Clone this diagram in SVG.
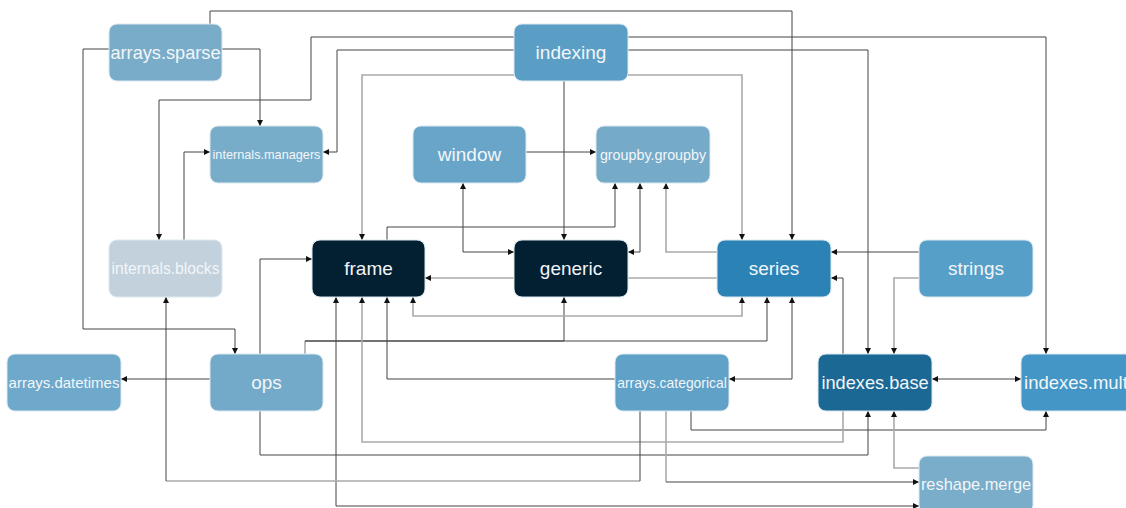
<svg xmlns="http://www.w3.org/2000/svg" width="1126" height="508" viewBox="0 0 1126 508">
<style>
.n rect{stroke:#dbe8f0;stroke-width:1}
.n text{font-family:"Liberation Sans",Arial,sans-serif;fill:#f2f6f9;text-anchor:middle}
.e path{fill:none;stroke:#444;stroke-width:1;marker-end:url(#a)}
.e path.l{stroke:#aaa;stroke-width:1.6}
.e path.b{marker-start:url(#s)}
.e path.na{marker-end:none}
</style>
<defs>
<marker id="a" markerUnits="userSpaceOnUse" markerWidth="7" markerHeight="7" refX="6" refY="3" orient="auto"><path d="M0,0 L6,3 L0,6 z" fill="#111"/></marker>
<marker id="s" markerUnits="userSpaceOnUse" markerWidth="7" markerHeight="7" refX="6" refY="3" orient="auto-start-reverse"><path d="M0,0 L6,3 L0,6 z" fill="#111"/></marker>
</defs>
<rect width="1126" height="508" fill="#fff"/>
<g class="e" id="connectors">
<path d="M210,24 V11 H792 V240"/>
<path d="M109,49 H83 V329 H235 V354"/>
<path d="M222,49 H260 V126"/>
<path d="M514,37 H311 V100 H159 V240"/>
<path d="M514,50 H337 V152 H323"/>
<path d="M628,37 H1046 V354"/>
<path d="M628,50 H868 V354"/>
<path d="M564,81 V240"/>
<path d="M526,152 H596"/>
<path class="b" d="M463,183 V252 H514"/>
<path d="M387,240 V227 H615 V183"/>
<path class="b" d="M628,252 H640 V183"/>
<path d="M919,252 H831"/>
<path d="M843,354 V278 H831"/>
<path d="M184,240 V152 H210"/>
<path d="M615,379 H387 V297"/>
<path class="b" d="M336,297 V506 H919"/>
<path class="l na" d="M305,354 V341"/>
<path d="M305,341 H564 V297"/>
<path d="M305,341 H767 V297"/>
<path class="b" d="M792,297 V379 H729"/>
<path d="M260,354 V259 H312"/>
<path d="M210,379 H121"/>
<path d="M260,411 V455 H868 V411"/>
<path class="l na" d="M666,411 V482"/>
<path d="M666,482 H919"/>
<path d="M691,411 V430 H1046 V411"/>
<path class="b" d="M932,379 H1021"/>
<path class="l" d="M514,75 H362 V240"/>
<path class="l" d="M628,75 H742 V240"/>
<path class="l" d="M717,252 H666 V183"/>
<path class="l" d="M717,278 H425"/>
<path class="l b" d="M413,297 V316 H742 V297"/>
<path class="l" d="M843,411 V442 H362 V297"/>
<path class="l na" d="M640,481 H166"/>
<path class="na" d="M640,411 V481"/>
<path d="M166,481 V297"/>
<path class="l" d="M919,278 H894 V354"/>
<path class="l" d="M919,468 H894 V411"/>
</g>
<g class="n" id="arrays-sparse"><rect x="109" y="24" width="113" height="57" rx="8" fill="#79acc9"/><text x="165.5" y="58.7" font-size="18.2">arrays.sparse</text></g>
<g class="n" id="indexing"><rect x="514" y="24" width="114" height="57" rx="8" fill="#5a9ec6"/><text x="571" y="59" font-size="19">indexing</text></g>
<g class="n" id="internals-managers"><rect x="210" y="126" width="113" height="57" rx="8" fill="#78adc9"/><text x="266.5" y="159" font-size="12.7">internals.managers</text></g>
<g class="n" id="window"><rect x="413" y="126" width="113" height="57" rx="8" fill="#68a5c9"/><text x="469.5" y="161" font-size="19">window</text></g>
<g class="n" id="groupby-groupby"><rect x="596" y="126" width="114" height="57" rx="8" fill="#75aac9"/><text x="653" y="159.5" font-size="14.3">groupby.groupby</text></g>
<g class="n" id="internals-blocks"><rect x="109" y="240" width="113" height="57" rx="8" fill="#c2d1db"/><text x="165.5" y="274" font-size="15.7">internals.blocks</text></g>
<g class="n" id="frame"><rect x="312" y="240" width="113" height="57" rx="8" fill="#031f32"/><text x="368.5" y="275" font-size="19">frame</text></g>
<g class="n" id="generic"><rect x="514" y="240" width="114" height="57" rx="8" fill="#031f32"/><text x="571" y="275" font-size="19">generic</text></g>
<g class="n" id="series"><rect x="717" y="240" width="114" height="57" rx="8" fill="#2b83b5"/><text x="774" y="275" font-size="19">series</text></g>
<g class="n" id="strings"><rect x="919" y="240" width="114" height="57" rx="8" fill="#569fc8"/><text x="976" y="275" font-size="19">strings</text></g>
<g class="n" id="arrays-datetimes"><rect x="7" y="354" width="114" height="57" rx="8" fill="#6ea9cb"/><text x="64" y="388" font-size="15">arrays.datetimes</text></g>
<g class="n" id="ops"><rect x="210" y="354" width="113" height="57" rx="8" fill="#73aaca"/><text x="266.5" y="389" font-size="19">ops</text></g>
<g class="n" id="arrays-categorical"><rect x="615" y="354" width="114" height="57" rx="8" fill="#5fa1c7"/><text x="672" y="387.5" font-size="13.9">arrays.categorical</text></g>
<g class="n" id="indexes-base"><rect x="818" y="354" width="114" height="57" rx="8" fill="#1b6894"/><text x="875" y="388.7" font-size="18.2">indexes.base</text></g>
<g class="n" id="indexes-multi"><rect x="1021" y="354" width="114" height="57" rx="8" fill="#4396c6"/><text x="1078" y="388.7" font-size="18.5">indexes.multi</text></g>
<g class="n" id="reshape-merge"><rect x="919" y="456" width="114" height="57" rx="8" fill="#79adca"/><text x="976" y="490" font-size="16.4">reshape.merge</text></g>
</svg>
